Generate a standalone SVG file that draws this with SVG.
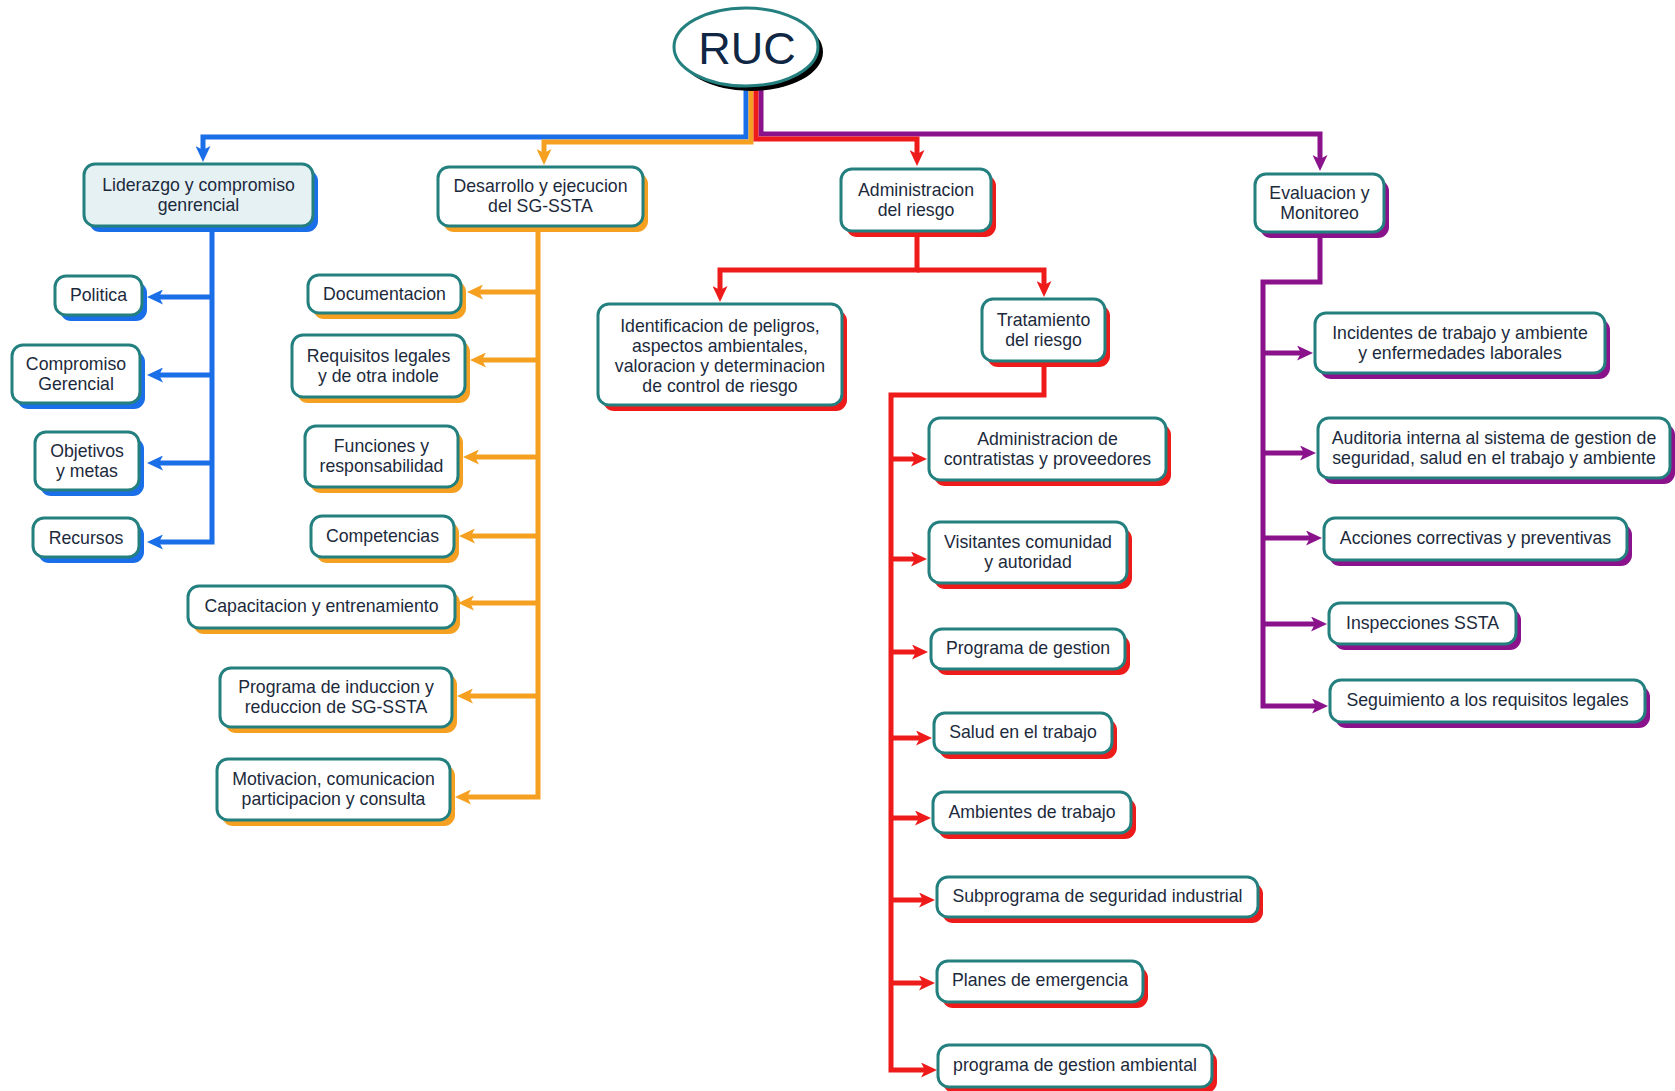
<svg xmlns="http://www.w3.org/2000/svg" width="1675" height="1091" viewBox="0 0 1675 1091">
  <style>
    .box { fill: #ffffff; stroke: #24807f; stroke-width: 3; }
    .box.light { fill: #e6f1f4; }
    .sh-b { fill: #1a6ee8; }
    .sh-o { fill: #f5a020; }
    .sh-r { fill: #ee1b1b; }
    .sh-p { fill: #8a138c; }
    text { font-family: "Liberation Sans", Arial, sans-serif; font-size: 17.7px; fill: #1c2a3c; text-anchor: middle; }
    .title { font-size: 45px; fill: #0f2744; }
    .ln { fill: none; stroke-width: 5; stroke-linejoin: miter; stroke-linecap: butt; }
    .ln-b { stroke: #1a6ee8; }
    .ln-o { stroke: #f5a020; }
    .ln-r { stroke: #ee1b1b; }
    .ln-p { stroke: #8a138c; }
  </style>
  <defs>
    <marker id="ah-b" viewBox="0 0 16 15" markerWidth="16" markerHeight="15" refX="5" refY="7.5" orient="auto" markerUnits="userSpaceOnUse">
      <path d="M0,0 L16,7.5 L0,15 L4,7.5 z" fill="#1a6ee8"/>
    </marker>
    <marker id="ah-o" viewBox="0 0 16 15" markerWidth="16" markerHeight="15" refX="5" refY="7.5" orient="auto" markerUnits="userSpaceOnUse">
      <path d="M0,0 L16,7.5 L0,15 L4,7.5 z" fill="#f5a020"/>
    </marker>
    <marker id="ah-r" viewBox="0 0 16 15" markerWidth="16" markerHeight="15" refX="5" refY="7.5" orient="auto" markerUnits="userSpaceOnUse">
      <path d="M0,0 L16,7.5 L0,15 L4,7.5 z" fill="#ee1b1b"/>
    </marker>
    <marker id="ah-p" viewBox="0 0 16 15" markerWidth="16" markerHeight="15" refX="5" refY="7.5" orient="auto" markerUnits="userSpaceOnUse">
      <path d="M0,0 L16,7.5 L0,15 L4,7.5 z" fill="#8a138c"/>
    </marker>
  </defs>

  <rect width="1675" height="1091" fill="#ffffff"/>

  <!-- connectors -->
  <g id="connectors">
    <!-- blue branch -->
    <path class="ln ln-b" d="M746,84 V137 H203 V151" marker-end="url(#ah-b)"/>
    <path class="ln ln-b" d="M212,226 V542 H158" marker-end="url(#ah-b)"/>
    <path class="ln ln-b" d="M212,297 H158" marker-end="url(#ah-b)"/>
    <path class="ln ln-b" d="M212,375 H158" marker-end="url(#ah-b)"/>
    <path class="ln ln-b" d="M212,463 H158" marker-end="url(#ah-b)"/>
    <!-- orange branch -->
    <path class="ln ln-o" d="M751,84 V142 H544 V154" marker-end="url(#ah-o)"/>
    <path class="ln ln-o" d="M538,226 V797 H466" marker-end="url(#ah-o)"/>
    <path class="ln ln-o" d="M538,292 H478" marker-end="url(#ah-o)"/>
    <path class="ln ln-o" d="M538,360 H481" marker-end="url(#ah-o)"/>
    <path class="ln ln-o" d="M538,457 H474" marker-end="url(#ah-o)"/>
    <path class="ln ln-o" d="M538,536 H470" marker-end="url(#ah-o)"/>
    <path class="ln ln-o" d="M538,603 H469" marker-end="url(#ah-o)"/>
    <path class="ln ln-o" d="M538,696 H468" marker-end="url(#ah-o)"/>
    <!-- purple branch -->
    <path class="ln ln-p" d="M761,84 V134 H1320 V160" marker-end="url(#ah-p)"/>
    <path class="ln ln-p" d="M1320,232 V282 H1263 V706 H1317" marker-end="url(#ah-p)"/>
    <path class="ln ln-p" d="M1263,353 H1302" marker-end="url(#ah-p)"/>
    <path class="ln ln-p" d="M1263,453 H1305" marker-end="url(#ah-p)"/>
    <path class="ln ln-p" d="M1263,538 H1311" marker-end="url(#ah-p)"/>
    <path class="ln ln-p" d="M1263,624 H1316" marker-end="url(#ah-p)"/>
    <!-- red branch -->
    <path class="ln ln-r" d="M756,84 V139 H917 V155" marker-end="url(#ah-r)"/>
    <path class="ln ln-r" d="M917,231 V270 H720 V291" marker-end="url(#ah-r)"/>
    <path class="ln ln-r" d="M917,270 H1044 V286" marker-end="url(#ah-r)"/>
    <path class="ln ln-r" d="M1044,361 V395 H891 V1070 H926" marker-end="url(#ah-r)"/>
    <path class="ln ln-r" d="M891,459 H916" marker-end="url(#ah-r)"/>
    <path class="ln ln-r" d="M891,559 H916" marker-end="url(#ah-r)"/>
    <path class="ln ln-r" d="M891,652 H917" marker-end="url(#ah-r)"/>
    <path class="ln ln-r" d="M891,738 H921" marker-end="url(#ah-r)"/>
    <path class="ln ln-r" d="M891,818 H920" marker-end="url(#ah-r)"/>
    <path class="ln ln-r" d="M891,900 H924" marker-end="url(#ah-r)"/>
    <path class="ln ln-r" d="M891,983 H924" marker-end="url(#ah-r)"/>
  </g>

  <!-- root -->
  <g id="n-ruc">
    <ellipse cx="751" cy="52" rx="72" ry="39" fill="#000000"/>
    <ellipse cx="746" cy="47" rx="72" ry="39" fill="#ffffff" stroke="#24807f" stroke-width="3"/>
    <text class="title" x="747" y="64">RUC</text>
  </g>

  <!-- blue column -->
  <g id="n-liderazgo">
    <rect class="sh-b" x="89" y="170" width="229" height="62" rx="11"/>
    <rect class="box light" x="84" y="164" width="229" height="62" rx="11"/>
    <text x="198.5" y="190.5">Liderazgo y compromiso</text>
    <text x="198.5" y="210.5">genrencial</text>
  </g>
  <g id="n-politica">
    <rect class="sh-b" x="60" y="282" width="87" height="39" rx="11"/>
    <rect class="box" x="55" y="276" width="87" height="39" rx="11"/>
    <text x="98.5" y="301">Politica</text>
  </g>
  <g id="n-compromiso">
    <rect class="sh-b" x="17" y="351" width="128" height="58" rx="11"/>
    <rect class="box" x="12" y="345" width="128" height="58" rx="11"/>
    <text x="76" y="370">Compromiso</text>
    <text x="76" y="390">Gerencial</text>
  </g>
  <g id="n-objetivos">
    <rect class="sh-b" x="40" y="438" width="104" height="58" rx="11"/>
    <rect class="box" x="35" y="432" width="104" height="58" rx="11"/>
    <text x="87" y="456.5">Objetivos</text>
    <text x="87" y="476.5">y metas</text>
  </g>
  <g id="n-recursos">
    <rect class="sh-b" x="38" y="524" width="106" height="39" rx="11"/>
    <rect class="box" x="33" y="518" width="106" height="39" rx="11"/>
    <text x="86" y="543.5">Recursos</text>
  </g>

  <!-- orange column -->
  <g id="n-desarrollo">
    <rect class="sh-o" x="443" y="173" width="205" height="59" rx="11"/>
    <rect class="box" x="438" y="167" width="205" height="59" rx="11"/>
    <text x="540.5" y="192">Desarrollo y ejecucion</text>
    <text x="540.5" y="212">del SG-SSTA</text>
  </g>
  <g id="n-documentacion">
    <rect class="sh-o" x="313" y="281" width="153" height="38" rx="11"/>
    <rect class="box" x="308" y="275" width="153" height="38" rx="11"/>
    <text x="384.5" y="300">Documentacion</text>
  </g>
  <g id="n-requisitos">
    <rect class="sh-o" x="297" y="341" width="173" height="62" rx="11"/>
    <rect class="box" x="292" y="335" width="173" height="62" rx="11"/>
    <text x="378.5" y="361.5">Requisitos legales</text>
    <text x="378.5" y="381.5">y de otra indole</text>
  </g>
  <g id="n-funciones">
    <rect class="sh-o" x="310" y="432" width="153" height="61" rx="11"/>
    <rect class="box" x="305" y="426" width="153" height="61" rx="11"/>
    <text x="381.5" y="452">Funciones y</text>
    <text x="381.5" y="472">responsabilidad</text>
  </g>
  <g id="n-competencias">
    <rect class="sh-o" x="316" y="522" width="143" height="41" rx="11"/>
    <rect class="box" x="311" y="516" width="143" height="41" rx="11"/>
    <text x="382.5" y="542">Competencias</text>
  </g>
  <g id="n-capacitacion">
    <rect class="sh-o" x="193" y="592" width="267" height="42" rx="11"/>
    <rect class="box" x="188" y="586" width="267" height="42" rx="11"/>
    <text x="321.5" y="611.5">Capacitacion y entrenamiento</text>
  </g>
  <g id="n-induccion">
    <rect class="sh-o" x="225" y="674" width="232" height="59" rx="11"/>
    <rect class="box" x="220" y="668" width="232" height="59" rx="11"/>
    <text x="336" y="693">Programa de induccion y</text>
    <text x="336" y="713">reduccion de SG-SSTA</text>
  </g>
  <g id="n-motivacion">
    <rect class="sh-o" x="222" y="765" width="233" height="61" rx="11"/>
    <rect class="box" x="217" y="759" width="233" height="61" rx="11"/>
    <text x="333.5" y="785">Motivacion, comunicacion</text>
    <text x="333.5" y="805">participacion y consulta</text>
  </g>

  <!-- red column -->
  <g id="n-administracion">
    <rect class="sh-r" x="846" y="175" width="150" height="62" rx="11"/>
    <rect class="box" x="841" y="169" width="150" height="62" rx="11"/>
    <text x="916" y="195.5">Administracion</text>
    <text x="916" y="215.5">del riesgo</text>
  </g>
  <g id="n-identificacion">
    <rect class="sh-r" x="603" y="310" width="244" height="101" rx="11"/>
    <rect class="box" x="598" y="304" width="244" height="101" rx="11"/>
    <text x="720" y="332">Identificacion de peligros,</text>
    <text x="720" y="352">aspectos ambientales,</text>
    <text x="720" y="372">valoracion y determinacion</text>
    <text x="720" y="392">de control de riesgo</text>
  </g>
  <g id="n-tratamiento">
    <rect class="sh-r" x="987" y="305" width="123" height="62" rx="11"/>
    <rect class="box" x="982" y="299" width="123" height="62" rx="11"/>
    <text x="1043.5" y="325.5">Tratamiento</text>
    <text x="1043.5" y="345.5">del riesgo</text>
  </g>
  <g id="n-contratistas">
    <rect class="sh-r" x="934" y="424" width="237" height="62" rx="11"/>
    <rect class="box" x="929" y="418" width="237" height="62" rx="11"/>
    <text x="1047.5" y="444.5">Administracion de</text>
    <text x="1047.5" y="464.5">contratistas y proveedores</text>
  </g>
  <g id="n-visitantes">
    <rect class="sh-r" x="934" y="528" width="198" height="61" rx="11"/>
    <rect class="box" x="929" y="522" width="198" height="61" rx="11"/>
    <text x="1028" y="548">Visitantes comunidad</text>
    <text x="1028" y="568">y autoridad</text>
  </g>
  <g id="n-programa-gestion">
    <rect class="sh-r" x="936" y="635" width="194" height="40" rx="11"/>
    <rect class="box" x="931" y="629" width="194" height="40" rx="11"/>
    <text x="1028" y="654">Programa de gestion</text>
  </g>
  <g id="n-salud">
    <rect class="sh-r" x="939" y="719" width="178" height="40" rx="11"/>
    <rect class="box" x="934" y="713" width="178" height="40" rx="11"/>
    <text x="1023" y="737.5">Salud en el trabajo</text>
  </g>
  <g id="n-ambientes">
    <rect class="sh-r" x="938" y="798" width="198" height="41" rx="11"/>
    <rect class="box" x="933" y="792" width="198" height="41" rx="11"/>
    <text x="1032" y="817.5">Ambientes de trabajo</text>
  </g>
  <g id="n-subprograma">
    <rect class="sh-r" x="942" y="883" width="321" height="40" rx="11"/>
    <rect class="box" x="937" y="877" width="321" height="40" rx="11"/>
    <text x="1097.5" y="902">Subprograma de seguridad industrial</text>
  </g>
  <g id="n-planes">
    <rect class="sh-r" x="942" y="967" width="206" height="41" rx="11"/>
    <rect class="box" x="937" y="961" width="206" height="41" rx="11"/>
    <text x="1040" y="986">Planes de emergencia</text>
  </g>
  <g id="n-ambiental">
    <rect class="sh-r" x="943" y="1051" width="274" height="42" rx="11"/>
    <rect class="box" x="938" y="1045" width="274" height="42" rx="11"/>
    <text x="1075" y="1071">programa de gestion ambiental</text>
  </g>

  <!-- purple column -->
  <g id="n-evaluacion">
    <rect class="sh-p" x="1260" y="180" width="129" height="58" rx="11"/>
    <rect class="box" x="1255" y="174" width="129" height="58" rx="11"/>
    <text x="1319.5" y="198.5">Evaluacion y</text>
    <text x="1319.5" y="218.5">Monitoreo</text>
  </g>
  <g id="n-incidentes">
    <rect class="sh-p" x="1320" y="319" width="290" height="60" rx="11"/>
    <rect class="box" x="1315" y="313" width="290" height="60" rx="11"/>
    <text x="1460" y="338.5">Incidentes de trabajo y ambiente</text>
    <text x="1460" y="358.5">y enfermedades laborales</text>
  </g>
  <g id="n-auditoria">
    <rect class="sh-p" x="1323" y="424" width="352" height="60" rx="11"/>
    <rect class="box" x="1318" y="418" width="352" height="60" rx="11"/>
    <text x="1494" y="443.5">Auditoria interna al sistema de gestion de</text>
    <text x="1494" y="463.5">seguridad, salud en el trabajo y ambiente</text>
  </g>
  <g id="n-acciones">
    <rect class="sh-p" x="1329" y="524" width="303" height="42" rx="11"/>
    <rect class="box" x="1324" y="518" width="303" height="42" rx="11"/>
    <text x="1475.5" y="544">Acciones correctivas y preventivas</text>
  </g>
  <g id="n-inspecciones">
    <rect class="sh-p" x="1334" y="609" width="187" height="41" rx="11"/>
    <rect class="box" x="1329" y="603" width="187" height="41" rx="11"/>
    <text x="1422.5" y="628.5">Inspecciones SSTA</text>
  </g>
  <g id="n-seguimiento">
    <rect class="sh-p" x="1335" y="686" width="315" height="42" rx="11"/>
    <rect class="box" x="1330" y="680" width="315" height="42" rx="11"/>
    <text x="1487.5" y="706">Seguimiento a los requisitos legales</text>
  </g>
</svg>
